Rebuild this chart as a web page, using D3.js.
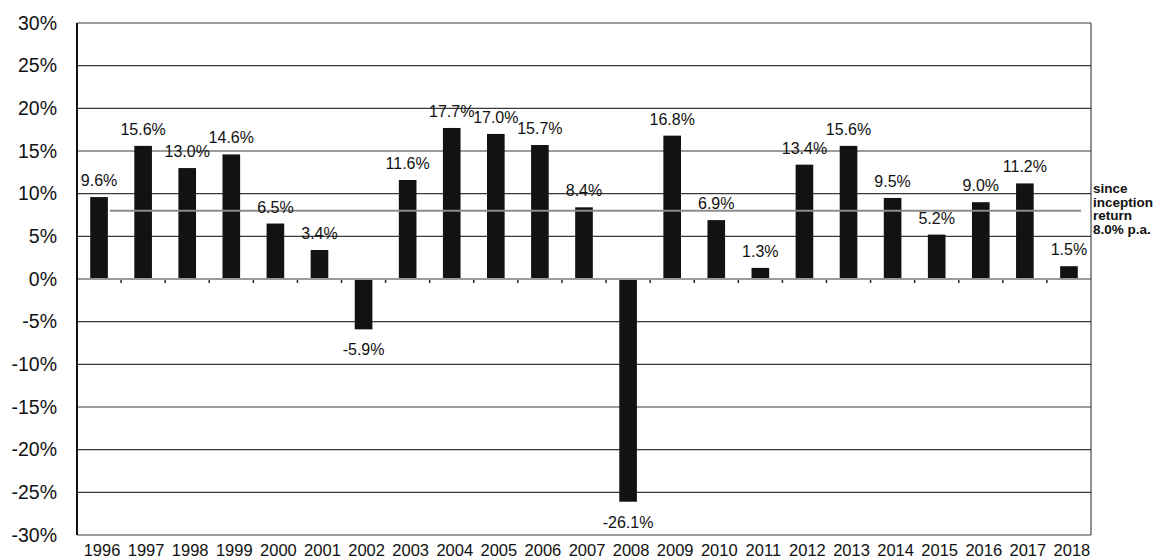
<!DOCTYPE html>
<html>
<head>
<meta charset="utf-8">
<style>
  body { margin: 0; background: #fff; font-family: "Liberation Sans", Arial, sans-serif; }
  svg { display: block; }
</style>
</head>
<body>
<script src="https://cdn.jsdelivr.net/npm/d3@7/dist/d3.min.js"></script>
<script>

var years = ["1996","1997","1998","1999","2000","2001","2002","2003","2004","2005","2006","2007",
             "2008","2009","2010","2011","2012","2013","2014","2015","2016","2017","2018"];
var returns = [9.6, 15.6, 13.0, 14.6, 6.5, 3.4, -5.9, 11.6, 17.7, 17.0, 15.7, 8.4,
               -26.1, 16.8, 6.9, 1.3, 13.4, 15.6, 9.5, 5.2, 9.0, 11.2, 1.5];
var yTicks = [30, 25, 20, 15, 10, 5, 0, -5, -10, -15, -20, -25, -30];
var inceptionReturn = 8.0;
var inceptionLabel = ["since", "inception", "return", "8.0% p.a."];

var W = 1158, H = 559;
var plot = {left: 77, right: 1091, top: 23, bottom: 535};

var svg = d3.select("body").append("svg")
  .attr("width", W)
  .attr("height", H);

var x = d3.scaleBand()
  .domain(years)
  .range([plot.left, plot.right])
  .paddingInner(0.6)
  .paddingOuter(0.3);

var y = d3.scaleLinear()
  .domain([-30, 30])
  .range([plot.bottom, plot.top]);

// horizontal grid
svg.append("g")
  .selectAll("line")
  .data(yTicks.filter(d => d !== 0))
  .join("line")
  .attr("x1", plot.left).attr("x2", plot.right)
  .attr("y1", d => y(d)).attr("y2", d => y(d))
  .attr("stroke", "#3a3a3a")
  .attr("stroke-width", 1.2);

// y axis labels
svg.append("g")
  .selectAll("text")
  .data(yTicks)
  .join("text")
  .attr("x", 57)
  .attr("y", d => y(d))
  .attr("dy", "0.35em")
  .attr("text-anchor", "end")
  .attr("font-size", 19.5)
  .attr("fill", "#111")
  .text(d => d + "%");

// bars
svg.append("g")
  .selectAll("rect")
  .data(returns)
  .join("rect")
  .attr("x", (d, i) => x(years[i]))
  .attr("width", x.bandwidth())
  .attr("y", d => y(Math.max(0, d)))
  .attr("height", d => Math.abs(y(d) - y(0)))
  .attr("fill", "#121212");

// zero line
svg.append("line")
  .attr("x1", plot.left).attr("x2", plot.right)
  .attr("y1", y(0)).attr("y2", y(0))
  .attr("stroke", "#9a9a9a")
  .attr("stroke-width", 2);

// small category marks under zero line
svg.append("g")
  .selectAll("line")
  .data(years.slice(1))
  .join("line")
  .attr("x1", d => x(d) - x.step() * 0.3)
  .attr("x2", d => x(d) - x.step() * 0.3)
  .attr("y1", y(0) + 1).attr("y2", y(0) + 4)
  .attr("stroke", "#222")
  .attr("stroke-width", 1.5);

// since inception line
svg.append("line")
  .attr("x1", x(years[0]) + x.bandwidth() + 2)
  .attr("x2", plot.right - 10)
  .attr("y1", y(inceptionReturn)).attr("y2", y(inceptionReturn))
  .attr("stroke", "#8c8c8c")
  .attr("stroke-width", 2);

// plot frame
svg.append("line")
  .attr("x1", plot.left).attr("x2", plot.left)
  .attr("y1", plot.top).attr("y2", plot.bottom)
  .attr("stroke", "#111").attr("stroke-width", 2);
svg.append("line")
  .attr("x1", plot.right).attr("x2", plot.right)
  .attr("y1", plot.top).attr("y2", plot.bottom)
  .attr("stroke", "#222").attr("stroke-width", 1);

// value labels
svg.append("g")
  .selectAll("text")
  .data(returns)
  .join("text")
  .attr("x", (d, i) => x(years[i]) + x.bandwidth() / 2)
  .attr("y", d => d >= 0 ? y(d) - 11 : y(d) + 26)
  .attr("text-anchor", "middle")
  .attr("font-size", 16)
  .attr("fill", "#111")
  .text(d => d.toFixed(1) + "%");

// x axis labels
svg.append("g")
  .selectAll("text")
  .data(years)
  .join("text")
  .attr("x", d => x(d) + x.bandwidth() / 2 + 3)
  .attr("y", 556)
  .attr("text-anchor", "middle")
  .attr("font-size", 16.5)
  .attr("fill", "#111")
  .text(d => d);

// inception note on the right
svg.append("text")
  .attr("font-size", 13.5)
  .attr("font-weight", "bold")
  .attr("fill", "#111")
  .selectAll("tspan")
  .data(inceptionLabel)
  .join("tspan")
  .attr("x", plot.right + 2)
  .attr("y", (d, i) => 193 + i * 13.5)
  .text(d => d);

</script>
</body>
</html>
